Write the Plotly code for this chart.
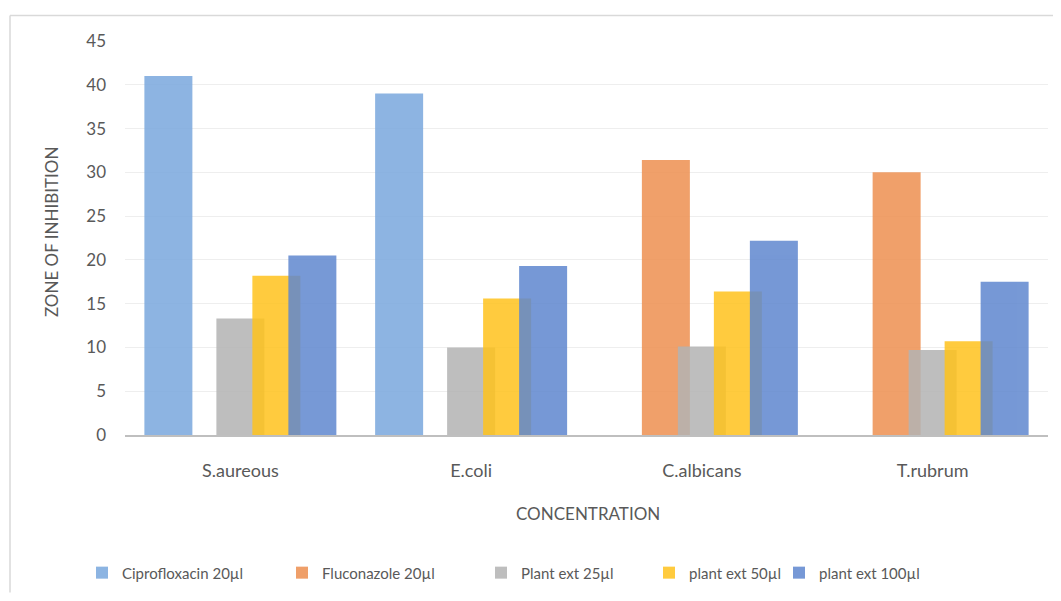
import plotly.graph_objects as go

categories = ["S.aureous", "E.coli", "C.albicans", "T.rubrum"]
series_names = ["Ciprofloxacin 20µl", "Fluconazole 20µl", "Plant ext 25µl", "plant ext 50µl", "plant ext 100µl"]
cipro = [41, 39, None, None]
fluconazole = [None, None, 31.4, 30.0]
plant25 = [13.3, 10.0, 10.1, 9.7]
plant50 = [18.2, 15.6, 16.4, 10.7]
plant100 = [20.5, 19.3, 22.2, 17.5]
y_ticks = [0, 5, 10, 15, 20, 25, 30, 35, 40, 45]

series_values = [cipro, fluconazole, plant25, plant50, plant100]
colors = ["#79A7DD", "#ED8F50", "#B3B3B3", "#FFC31D", "#5F87CF"]

# the page puts the figure 8px in from the top-left corner
OFF = 8
FW, FH = 1061 - OFF, 601 - OFF
# plot area in page pixels
L, R, T, B = 125, 1048, 41, 441
W, H = R - L, B - T
def px(x):
    return (x - L) / W
def py(y):
    return (B - y) / H

slot = 0.156
bw = 0.208
legend_text_x = [122, 322, 521, 689, 819]
FONT = "Lato, 'Open Sans', sans-serif"

fig = go.Figure()
for i, (name, vals, col) in enumerate(zip(series_names, series_values, colors)):
    center = (i - 2) * slot
    lg = "legend" if i == 0 else f"legend{i+1}"
    fig.add_trace(go.Bar(
        x=categories, y=vals, name=name,
        marker=dict(color=col, line=dict(width=0)),
        opacity=0.85,
        width=bw, offset=center - bw / 2,
        legend=lg,
    ))

layout_legends = {}
for i in range(5):
    key = "legend" if i == 0 else f"legend{i+1}"
    layout_legends[key] = dict(
        x=px(legend_text_x[i] - 40), xanchor="left",
        y=py(581), yanchor="middle",
        orientation="h", bgcolor="rgba(0,0,0,0)",
        font=dict(family=FONT, size=15, color="#595959"),
        itemclick=False, itemdoubleclick=False,
    )

fig.update_layout(
    width=FW, height=FH,
    margin=dict(l=L - OFF, r=FW - (R - OFF), t=T - OFF, b=FH - (B - OFF)),
    paper_bgcolor="white", plot_bgcolor="white",
    barmode="overlay",
    showlegend=True,
    font=dict(family=FONT, color="#595959"),
    xaxis=dict(
        type="category", categoryorder="array", categoryarray=categories,
        range=[-0.5, 3.5],
        showline=True, linecolor="#BFBFBF", linewidth=1.5,
        showgrid=False, ticks="", zeroline=False,
        tickfont=dict(size=18, color="#595959"),
        ticklabelstandoff=19,
    ),
    yaxis=dict(
        range=[0, 45], tickvals=y_ticks,
        showgrid=True, gridcolor="#EEEEEE", gridwidth=1,
        zeroline=False, showline=False, ticks="",
        tickfont=dict(size=17, color="#595959"),
        ticklabelstandoff=18,
    ),
    shapes=[
        dict(type="line", xref="paper", yref="paper",
             x0=px(10), x1=px(1061), y0=py(15), y1=py(15),
             line=dict(color="#D9D9D9", width=1.5)),
        dict(type="line", xref="paper", yref="paper",
             x0=px(10), x1=px(10), y0=py(15), y1=py(601),
             line=dict(color="#D9D9D9", width=1.5)),
    ],
    annotations=[
        dict(text="ZONE OF INHIBITION", xref="paper", yref="paper",
             x=px(51), y=py(235), xanchor="center", yanchor="middle",
             textangle=-90, showarrow=False,
             font=dict(size=17, color="#595959")),
        dict(text="CONCENTRATION", xref="paper", yref="paper",
             x=px(588), y=py(521), xanchor="center", yanchor="middle",
             showarrow=False,
             font=dict(size=17, color="#595959")),
    ],
    **layout_legends,
)

fig.write_html("out.html")
